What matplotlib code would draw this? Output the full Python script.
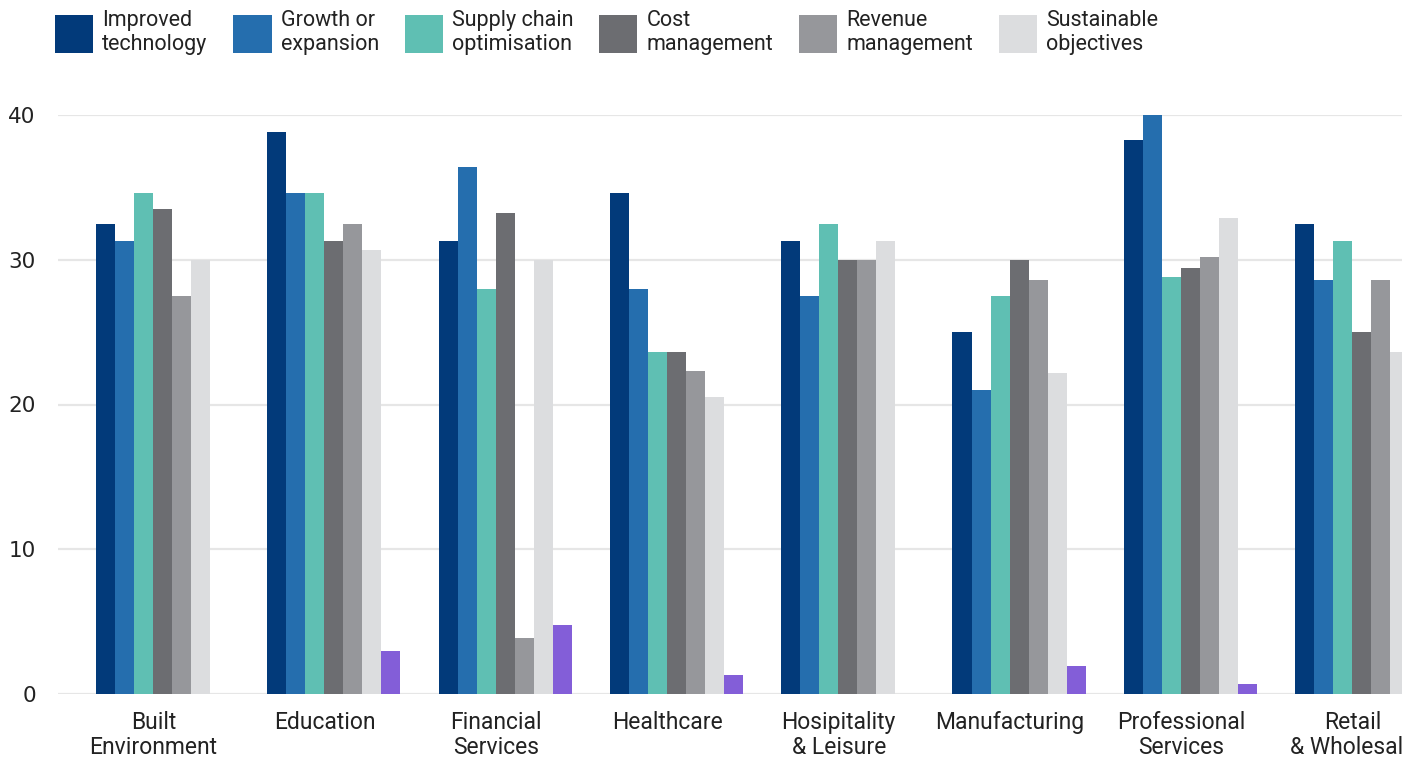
import matplotlib
matplotlib.use("Agg")
import matplotlib.pyplot as plt
import numpy as np

categories = ["Built\nEnvironment", "Education", "Financial\nServices", "Healthcare",
              "Hosipitality\n& Leisure", "Manufacturing", "Professional\nServices",
              "Retail\n& Wholesale"]

series_names = ["Improved\ntechnology", "Growth or\nexpansion", "Supply chain\noptimisation",
                "Cost\nmanagement", "Revenue\nmanagement", "Sustainable\nobjectives"]

improved_technology = [32.5, 38.8, 31.3, 34.6, 31.3, 25.0, 38.3, 32.5]
growth_or_expansion = [31.3, 34.6, 36.4, 28.0, 27.5, 21.0, 40.1, 28.6]
supply_chain = [34.6, 34.6, 28.0, 23.6, 32.5, 27.5, 28.8, 31.3]
cost_management = [33.5, 31.3, 33.2, 23.6, 30.0, 30.0, 29.4, 25.0]
revenue_management = [27.5, 32.5, 3.9, 22.3, 30.0, 28.6, 30.2, 28.6]
sustainable_objectives = [30.0, 30.7, 30.0, 20.5, 31.3, 22.2, 32.9, 23.6]
other = [0.0, 3.0, 4.8, 1.3, 0.0, 1.9, 0.7, 0.0]

y_ticks = [0, 10, 20, 30, 40]

colors = ["#023a7a", "#256eae", "#5fbfb3", "#6c6d71", "#96979b", "#dcdddf", "#835ed8"]
text_color = "#222222"

plt.rcParams["font.family"] = ["Roboto", "DejaVu Sans"]

W, H = 1402, 757
fig = plt.figure(figsize=(W / 100, H / 100), dpi=100)
ax_left = 58 / W
ax_bottom = (H - 694) / H
ax_top = (H - 115) / H
ax = fig.add_axes([ax_left, ax_bottom, 1 - ax_left, ax_top - ax_bottom])

x = np.arange(len(categories))
bar_w = 0.111
shift = 0.0525
all_series = [improved_technology, growth_or_expansion, supply_chain, cost_management,
              revenue_management, sustainable_objectives, other]
handles = []
for j, vals in enumerate(all_series):
    bars = ax.bar(x + shift + (j - 3) * bar_w, vals, width=bar_w, color=colors[j],
                  zorder=3, linewidth=0)
    handles.append(bars)

ax.set_ylim(0, 40)
ax.set_xlim(-0.5575, 7.288)
ax.set_yticks(y_ticks)
ax.set_yticklabels([str(v) for v in y_ticks], fontsize=15.5, color=text_color,
                   family=["DejaVu Sans"])
ax.set_xticks(x)
ax.set_xticklabels(categories, fontsize=16.5, color=text_color, linespacing=1.12)
ax.tick_params(axis="y", length=0, pad=16)
ax.tick_params(axis="x", length=0, pad=12)
ax.grid(axis="y", color="#e6e6e6", linewidth=1.6, zorder=0)
ax.set_axisbelow(True)
for s in ax.spines.values():
    s.set_visible(False)

leg = fig.legend(handles[:6], series_names, loc="upper left",
                 bbox_to_anchor=(ax_left - 0.002, 1 - 10 / H), ncol=6, frameon=False,
                 prop={"size": 15.5},
                 handlelength=1.77, handleheight=2.35, handletextpad=0.42,
                 columnspacing=1.2, labelcolor=text_color, borderaxespad=0, borderpad=0)
for t in leg.get_texts():
    t.set_linespacing(1.2)

fig.savefig("out.png", dpi=100, facecolor="white")
